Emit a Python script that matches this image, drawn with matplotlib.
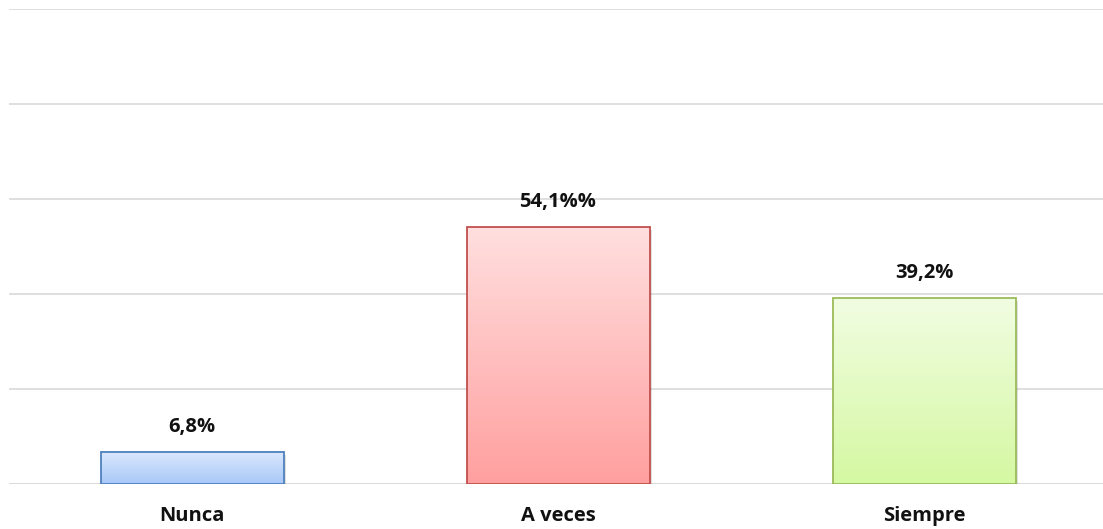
import numpy as np
import matplotlib.pyplot as plt
from matplotlib.colors import LinearSegmentedColormap

categories = ['Nunca', 'A veces', 'Siempre']
values = [6.8, 54.1, 39.2]
labels = ['6,8%', '54,1%%', '39,2%']

# colores: (arriba, abajo, borde)
colors = [('#dce9fd', '#a8c8f8', '#4f81bd'),
          ('#ffdfdf', '#ff9f9f', '#c0504d'),
          ('#f1fde2', '#d5f8a2', '#9bbb59')]

plt.rcParams['font.family'] = ['Open Sans', 'DejaVu Sans']
FS = 14.5

fig = plt.figure(figsize=(11.03, 5.29), dpi=100)
ax = fig.add_axes([9 / 1103, 45 / 529, 1098 / 1103, 475 / 529])

x = np.arange(len(categories))
w = 0.5
bars = ax.bar(x, values, width=w, color='none', zorder=3)

for i, (b, v) in enumerate(zip(bars, values)):
    top, bot, edge = colors[i]
    cmap = LinearSegmentedColormap.from_list('g%d' % i, [bot, top])
    grad = np.linspace(0, 1, 256).reshape(-1, 1)
    x0 = b.get_x()
    ax.imshow(grad, extent=[x0, x0 + w, 0, v], origin='lower', cmap=cmap,
              aspect='auto', zorder=3)
    # sombra
    ax.add_patch(plt.Rectangle((x0 + 0.006, -0.6), w, v, facecolor='#000000',
                               alpha=0.12, edgecolor='none', zorder=2))
    ax.add_patch(plt.Rectangle((x0, 0), w, v, facecolor='none', edgecolor=edge,
                               linewidth=1.3, zorder=4))
    ax.text(x[i], v + 3.1, labels[i], ha='center', va='bottom',
            fontsize=FS, fontweight='bold', color='#111111')

ax.set_xlim(-0.5, 2.5)
ax.set_ylim(0, 100)
ax.set_yticks([0, 20, 40, 60, 80, 100])
ax.yaxis.grid(True, color='#d9d9d9', linewidth=1.2, zorder=0)
ax.set_axisbelow(True)
ax.tick_params(left=False, bottom=False, labelleft=False)
ax.set_xticks(x)
ax.set_xticklabels(categories, fontsize=FS, fontweight='bold', color='#111111')
ax.tick_params(axis='x', pad=12)
for s in ax.spines.values():
    s.set_visible(False)
ax.axhline(0, color='#d9d9d9', linewidth=1.2, zorder=1)

fig.savefig('out.png', dpi=100)
